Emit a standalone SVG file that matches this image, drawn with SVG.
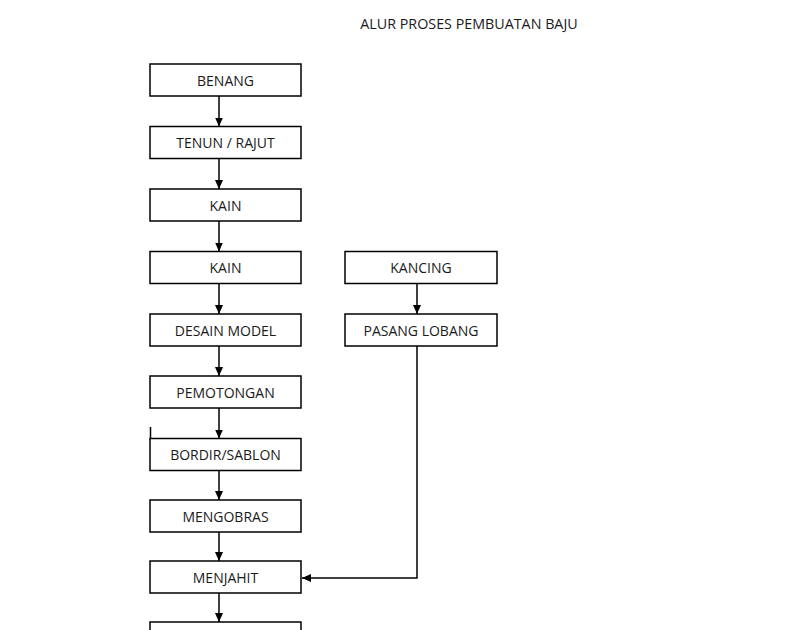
<svg xmlns="http://www.w3.org/2000/svg" width="800" height="630" viewBox="0 0 800 630">
<defs>
<style>
.box{fill:#fff;stroke:#000;stroke-width:1.5}
.t{font-family:"Open Sans","Liberation Sans",sans-serif;font-size:14px;fill:#1a1a1a;text-anchor:middle;dominant-baseline:central}
.c{fill:none;stroke:#000;stroke-width:1.5}
</style>
<marker id="ah" markerWidth="10" markerHeight="10" refX="9" refY="5" orient="auto" markerUnits="userSpaceOnUse">
<path d="M0,1 L9,5 L0,9 Z" fill="#000"/>
</marker>
</defs>
<rect width="800" height="630" fill="#fff"/>
<text class="t" x="469" y="23" style="font-size:14.3px">ALUR PROSES PEMBUATAN BAJU</text>
<g id="connectors">
<line class="c" x1="219" y1="96" x2="219" y2="126.5" marker-end="url(#ah)"/>
<line class="c" x1="219" y1="158.5" x2="219" y2="189" marker-end="url(#ah)"/>
<line class="c" x1="219" y1="221" x2="219" y2="251.5" marker-end="url(#ah)"/>
<line class="c" x1="219" y1="283.5" x2="219" y2="314" marker-end="url(#ah)"/>
<line class="c" x1="219" y1="346" x2="219" y2="376" marker-end="url(#ah)"/>
<line class="c" x1="219" y1="408" x2="219" y2="438.5" marker-end="url(#ah)"/>
<line class="c" x1="219" y1="470.5" x2="219" y2="500" marker-end="url(#ah)"/>
<line class="c" x1="219" y1="532" x2="219" y2="561" marker-end="url(#ah)"/>
<line class="c" x1="219" y1="593" x2="219" y2="622" marker-end="url(#ah)"/>
<line class="c" x1="417" y1="283.5" x2="417" y2="314" marker-end="url(#ah)"/>
<polyline class="c" points="417,346 417,578 302,578" marker-end="url(#ah)"/>
<line class="c" x1="150.5" y1="427" x2="150.5" y2="440"/>
</g>
<g id="n1"><rect class="box" x="150" y="64" width="151" height="32"/><text class="t" x="225.5" y="80">BENANG</text></g>
<g id="n2"><rect class="box" x="150" y="126.5" width="151" height="32"/><text class="t" x="225.5" y="142.5">TENUN / RAJUT</text></g>
<g id="n3"><rect class="box" x="150" y="189" width="151" height="32"/><text class="t" x="225.5" y="205">KAIN</text></g>
<g id="n4"><rect class="box" x="150" y="251.5" width="151" height="32"/><text class="t" x="225.5" y="267.5">KAIN</text></g>
<g id="n5"><rect class="box" x="150" y="314" width="151" height="32"/><text class="t" x="225.5" y="330">DESAIN MODEL</text></g>
<g id="n6"><rect class="box" x="150" y="376" width="151" height="32"/><text class="t" x="225.5" y="392">PEMOTONGAN</text></g>
<g id="n7"><rect class="box" x="150" y="438.5" width="151" height="32"/><text class="t" x="225.5" y="454.5">BORDIR/SABLON</text></g>
<g id="n8"><rect class="box" x="150" y="500" width="151" height="32"/><text class="t" x="225.5" y="516">MENGOBRAS</text></g>
<g id="n9"><rect class="box" x="150" y="561" width="151" height="32"/><text class="t" x="225.5" y="577">MENJAHIT</text></g>
<g id="n10"><rect class="box" x="150" y="622" width="151" height="32"/></g>
<g id="k1"><rect class="box" x="345" y="251.5" width="152" height="32"/><text class="t" x="421" y="267.5">KANCING</text></g>
<g id="k2"><rect class="box" x="345" y="314" width="152" height="32"/><text class="t" x="421" y="330">PASANG LOBANG</text></g>
</svg>
